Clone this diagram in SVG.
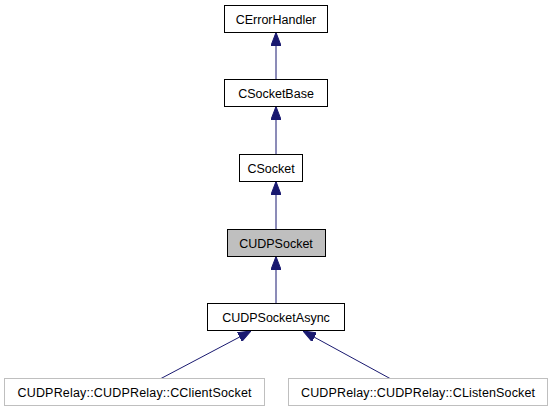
<svg xmlns="http://www.w3.org/2000/svg" width="552" height="411" viewBox="0 0 552 411">
<style>
.box{fill:#ffffff;stroke:#000000;stroke-width:1}
.hl{fill:#bfbfbf;stroke:#000000;stroke-width:1}
.ext{fill:#ffffff;stroke:#bfbfbf;stroke-width:1}
.lbl{font-family:"Liberation Sans",Arial,sans-serif;font-size:12.5px;fill:#000000;text-anchor:middle}
.edge{stroke:#191970;stroke-width:1;fill:none}
</style>
<defs>
<marker id="ah" viewBox="0 0 13 10" refX="13" refY="5" markerWidth="13" markerHeight="10" markerUnits="userSpaceOnUse" orient="auto">
<path d="M0,0 L13,5 L0,10 Z" fill="#191970" stroke="#191970" stroke-width="1"/>
</marker>
</defs>
<rect width="552" height="411" fill="#ffffff"/>
<g id="connectors">
<line class="edge" x1="276" y1="79.5" x2="276" y2="32.5" marker-end="url(#ah)"/>
<line class="edge" x1="276" y1="154.5" x2="276" y2="106.5" marker-end="url(#ah)"/>
<line class="edge" x1="276" y1="229.5" x2="276" y2="181.5" marker-end="url(#ah)"/>
<line class="edge" x1="276" y1="303.5" x2="276" y2="256.5" marker-end="url(#ah)"/>
<line class="edge" x1="161" y1="378.5" x2="251" y2="331" marker-end="url(#ah)"/>
<line class="edge" x1="390" y1="378.5" x2="303" y2="331" marker-end="url(#ah)"/>
</g>
<g id="CErrorHandler">
<rect class="box" x="224.5" y="5.5" width="103" height="27"/>
<text class="lbl" x="276" y="23.5">CErrorHandler</text>
</g>
<g id="CSocketBase">
<rect class="box" x="224.5" y="79.5" width="103" height="27"/>
<text class="lbl" x="276" y="97.5">CSocketBase</text>
</g>
<g id="CSocket">
<rect class="box" x="239.5" y="154.5" width="63" height="27"/>
<text class="lbl" x="271" y="172.5">CSocket</text>
</g>
<g id="CUDPSocket">
<rect class="hl" x="227.5" y="229.5" width="98" height="27"/>
<text class="lbl" x="276" y="247.5">CUDPSocket</text>
</g>
<g id="CUDPSocketAsync">
<rect class="box" x="207.5" y="303.5" width="137" height="27"/>
<text class="lbl" x="276" y="321.5">CUDPSocketAsync</text>
</g>
<g id="CClientSocket">
<rect class="ext" x="4.5" y="378.5" width="260" height="27"/>
<text class="lbl" x="134.5" y="396.5" textLength="234" lengthAdjust="spacing">CUDPRelay::CUDPRelay::CClientSocket</text>
</g>
<g id="CListenSocket">
<rect class="ext" x="288.5" y="378.5" width="259" height="27"/>
<text class="lbl" x="418" y="396.5" textLength="234" lengthAdjust="spacing">CUDPRelay::CUDPRelay::CListenSocket</text>
</g>
</svg>
